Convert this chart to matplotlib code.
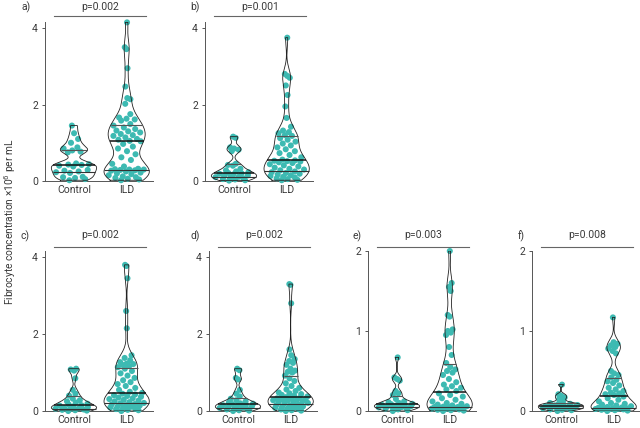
import numpy as np
import matplotlib
matplotlib.use("Agg")
import matplotlib.pyplot as plt
from matplotlib import transforms
from matplotlib.mlab import GaussianKDE
from matplotlib.lines import Line2D

plt.rcParams['font.family'] = ['Roboto', 'DejaVu Sans']

# ---------------- data (x10^6 per mL) ----------------
groups = ["Control", "ILD"]
panel_labels = ["a)", "b)", "c)", "d)", "e)", "f)"]
p_values = ["p=0.002", "p=0.001", "p=0.002", "p=0.002", "p=0.003", "p=0.008"]

a_control = [0.02, 0.05, 0.08, 0.10, 0.11, 0.21, 0.23, 0.25, 0.27, 0.29, 0.38, 0.40, 0.42,
             0.43, 0.44, 0.46, 0.75, 0.77, 0.80, 0.85, 0.88, 1.00, 1.10, 1.25, 1.45]
a_ild = [0.02, 0.04, 0.06, 0.08, 0.10, 0.12, 0.15, 0.18, 0.20, 0.22, 0.25, 0.27, 0.28, 0.29,
         0.30, 0.30, 0.31, 0.32, 0.38, 0.45, 0.55, 0.62, 0.70, 0.78, 0.85, 0.90, 0.97, 1.04,
         1.05, 1.08, 1.10, 1.14, 1.18, 1.20, 1.23, 1.27, 1.30, 1.32, 1.36, 1.40, 1.45, 1.49,
         1.58, 1.61, 1.63, 1.66, 1.75, 2.02, 2.14, 2.17, 2.47, 2.95, 3.45, 3.50, 4.15]

b_control = [0.01, 0.02, 0.04, 0.05, 0.07, 0.08, 0.10, 0.11, 0.13, 0.15, 0.17, 0.19, 0.20,
             0.21, 0.23, 0.25, 0.28, 0.32, 0.40, 0.42, 0.45, 0.78, 0.82, 0.85, 0.88, 1.13, 1.16]
b_ild = [0.02, 0.03, 0.05, 0.07, 0.09, 0.11, 0.13, 0.15, 0.17, 0.19, 0.21, 0.23, 0.25, 0.28,
         0.30, 0.32, 0.35, 0.38, 0.41, 0.44, 0.47, 0.49, 0.51, 0.52, 0.53, 0.54, 0.56,
         0.62, 0.68, 0.73, 0.78, 0.83, 0.88, 0.93, 0.98, 1.03, 1.08, 1.12, 1.18, 1.20,
         1.25, 1.28, 1.32, 1.42, 1.65, 1.95, 2.25, 2.50, 2.70, 2.75, 2.80, 3.75]

c_control = [0.00, 0.01, 0.02, 0.03, 0.04, 0.05, 0.06, 0.07, 0.08, 0.10, 0.12, 0.14, 0.15,
             0.17, 0.19, 0.22, 0.25, 0.28, 0.32, 0.40, 0.45, 0.55, 0.85, 1.05, 1.08, 1.10]
c_ild = [0.00, 0.02, 0.03, 0.05, 0.06, 0.08, 0.09, 0.11, 0.12, 0.14, 0.15, 0.17, 0.18, 0.20,
         0.21, 0.23, 0.25, 0.27, 0.29, 0.31, 0.33, 0.35, 0.37, 0.39, 0.41, 0.43, 0.45, 0.47,
         0.50, 0.55, 0.60, 0.65, 0.70, 0.75, 0.80, 0.86, 0.92, 0.98, 1.04, 1.10, 1.14,
         1.17, 1.20, 1.22, 1.23, 1.27, 1.32, 1.38, 1.45, 2.15, 2.60, 3.45, 3.77, 3.80]

d_control = [0.00, 0.01, 0.02, 0.04, 0.05, 0.06, 0.08, 0.09, 0.10, 0.12, 0.13, 0.15, 0.16,
             0.18, 0.19, 0.20, 0.22, 0.25, 0.28, 0.32, 0.38, 0.45, 0.55, 0.82, 0.86, 1.06, 1.10]
d_ild = [0.00, 0.01, 0.02, 0.04, 0.05, 0.06, 0.08, 0.09, 0.11, 0.12, 0.14, 0.15, 0.17, 0.19,
         0.21, 0.22, 0.24, 0.25, 0.27, 0.28, 0.29, 0.30, 0.31, 0.32, 0.33, 0.34, 0.36, 0.38,
         0.40, 0.42, 0.44, 0.46, 0.48, 0.52, 0.56, 0.60, 0.65, 0.72, 0.78, 0.85, 0.92,
         1.00, 1.02, 1.05, 1.10, 1.20, 1.25, 1.30, 1.35, 1.45, 1.60, 2.80, 3.28, 3.30]

e_control = [0.00, 0.01, 0.02, 0.03, 0.035, 0.04, 0.045, 0.05, 0.055, 0.06, 0.07, 0.075, 0.08,
             0.085, 0.09, 0.10, 0.11, 0.12, 0.15, 0.20, 0.22, 0.25, 0.38, 0.40, 0.42, 0.67]
e_ild = [0.00, 0.005, 0.01, 0.015, 0.02, 0.025, 0.03, 0.035, 0.04, 0.045, 0.05, 0.05, 0.05,
         0.055, 0.06, 0.07, 0.08, 0.09, 0.10, 0.12, 0.14, 0.16, 0.18, 0.20, 0.22, 0.25,
         0.27, 0.29, 0.31, 0.33, 0.36, 0.40, 0.45, 0.48, 0.50, 0.52, 0.55, 0.60,
         0.70, 0.80, 0.95, 0.98, 1.00, 1.02, 1.18, 1.20, 1.50, 1.55, 1.60, 2.00]

f_control = [0.00, 0.01, 0.015, 0.02, 0.025, 0.03, 0.035, 0.04, 0.045, 0.05, 0.055, 0.06, 0.065,
             0.07, 0.075, 0.08, 0.085, 0.09, 0.095, 0.10, 0.12, 0.15, 0.17, 0.19, 0.21, 0.33]
f_ild = [0.00, 0.005, 0.01, 0.015, 0.02, 0.022, 0.025, 0.028, 0.03, 0.033, 0.036, 0.04,
         0.045, 0.05, 0.06, 0.07, 0.08, 0.09, 0.10, 0.12, 0.14, 0.16, 0.18, 0.20,
         0.21, 0.22, 0.23, 0.25, 0.27, 0.29, 0.32, 0.35, 0.37, 0.39, 0.42,
         0.45, 0.47, 0.50, 0.72, 0.75, 0.78, 0.80, 0.82, 0.84, 0.86, 1.17]

panel_data = [(a_control, a_ild), (b_control, b_ild), (c_control, c_ild),
              (d_control, d_ild), (e_control, e_ild), (f_control, f_ild)]
y_ticks = [[0, 2, 4], [0, 2, 4], [0, 2, 4], [0, 2, 4], [0, 1, 2], [0, 1, 2]]
y_tops = [4.16, 4.16, 4.16, 4.16, 2.0, 2.0]

# ---------------- layout (pixel boxes: left, top, right, bottom) ----------------
W, H = 640, 428
boxes = [(45, 22, 153, 181), (205, 22, 313, 181), (45, 251, 153, 411),
         (209, 251, 317, 411), (368, 251, 476, 411), (532, 251, 640, 411)]
label_pos = [(26, 7), (195, 7), (25, 236), (195, 236), (357, 236), (521, 236)]
pline_y = [16, 16, 247, 247, 247, 247]
ptext_y = [7, 7, 235, 235, 235, 235]

DOT = '#3DBAB2'
AXC = '#555555'
TXT = '#3a3a3a'
HALF = 0.43
BW = 0.25

fig = plt.figure(figsize=(6.4, 4.28), dpi=100)


def fx(x):
    return x / W


def fy(y):
    return 1 - y / H


for k, (ctrl, ild) in enumerate(panel_data):
    l, t, r, b = boxes[k]
    ax = fig.add_axes([fx(l), fy(b), (r - l) / W, (b - t) / H])
    ax.set_xlim(-0.55, 1.5)
    ax.set_ylim(0, y_tops[k])
    for s in ['top', 'right']:
        ax.spines[s].set_visible(False)
    for s in ['left', 'bottom']:
        ax.spines[s].set_color(AXC)
        ax.spines[s].set_linewidth(0.7)
    ax.set_yticks(y_ticks[k])
    ax.tick_params(axis='y', length=2.5, width=0.7, color=AXC, labelsize=7.5,
                   labelcolor=TXT, pad=2.5)
    ax.set_xticks([0, 1])
    ax.set_xticklabels(groups)
    ax.tick_params(axis='x', length=0, labelsize=7.5, labelcolor=TXT, pad=3)

    for gi, vals in enumerate([ctrl, ild]):
        v = np.sort(np.asarray(vals, dtype=float))
        kde = GaussianKDE(v, bw_method=BW)
        ys = np.linspace(v.min(), v.max(), 300)
        dens = kde.evaluate(ys)
        scale = HALF / dens.max()
        hw = dens * scale
        ax.fill_betweenx(ys, gi - hw, gi + hw, facecolor='white', edgecolor='none', zorder=1)
        # outline
        ax.plot(np.concatenate([gi - hw, (gi + hw)[::-1], [gi - hw[0]]]),
                np.concatenate([ys, ys[::-1], [ys[0]]]),
                color='#222222', lw=0.6, zorder=4)
        # dots, spread inside the violin
        dv = kde.evaluate(v) * scale
        n = len(v)
        u = 2 * ((np.arange(n) * 0.61803398875 + 0.3) % 1.0) - 1
        xs = gi + u * dv * 0.85
        ax.scatter(xs, v, s=19, color=DOT, edgecolors='none', zorder=3, clip_on=False)
        # quartile lines
        q1, med, q3 = np.percentile(v, [25, 50, 75])
        for q, lw, c in [(q1, 0.8, '#333333'), (med, 1.1, '#111111'), (q3, 0.8, '#555555')]:
            h = kde.evaluate(np.array([q]))[0] * scale
            ax.plot([gi - h, gi + h], [q, q], color=c, lw=lw, zorder=5,
                    solid_capstyle='butt')

    # p-value bar
    trans = transforms.blended_transform_factory(ax.transData, fig.transFigure)
    ax.add_line(Line2D([-0.38, 1.37], [fy(pline_y[k])] * 2, transform=trans,
                       color='#666666', lw=0.8, clip_on=False))
    ax.text(0.5, fy(ptext_y[k]), p_values[k], transform=trans, ha='center', va='center',
            fontsize=7.5, color=TXT)
    fig.text(fx(label_pos[k][0]), fy(label_pos[k][1]), panel_labels[k], ha='center',
             va='center', fontsize=7.5, color=TXT)

fig.text(fx(10), fy(222), "Fibrocyte concentration \u00d710$^{6}$ per mL", rotation=90,
         ha='center', va='center', fontsize=7.3, color=TXT)

fig.savefig("out.png", dpi=100)
